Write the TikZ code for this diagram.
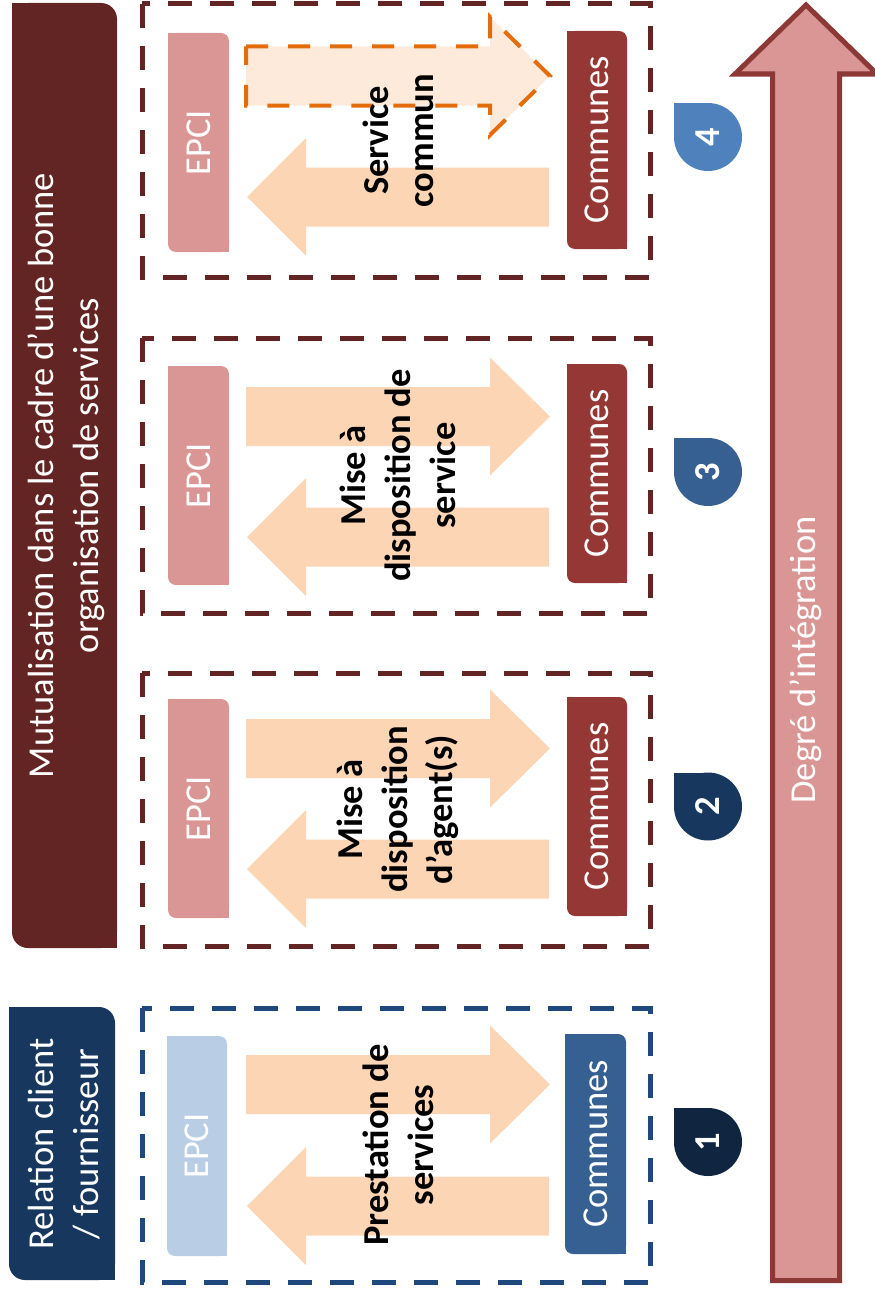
\documentclass[tikz,border=0pt]{standalone}
\usepackage{fontspec}
\setmainfont{Carlito}

\definecolor{mutred}{HTML}{632523}
\definecolor{relblue}{HTML}{17375E}
\definecolor{dashblue}{HTML}{1F497D}
\definecolor{epcipink}{HTML}{D99694}
\definecolor{epciblue}{HTML}{B9CDE5}
\definecolor{comred}{HTML}{953735}
\definecolor{comblue}{HTML}{376092}
\definecolor{flowfill}{HTML}{FCD5B5}
\definecolor{commfill}{HTML}{FDEADA}
\definecolor{commline}{HTML}{E46C0A}
\definecolor{badgeone}{HTML}{10253F}
\definecolor{badgetwo}{HTML}{17375E}
\definecolor{badgethree}{HTML}{376092}
\definecolor{badgefour}{HTML}{4F81BD}
\definecolor{degline}{HTML}{8C3836}

% boite aux coins diagonaux arrondis: couleur, x1, y1, x2, y2, rayon
\newcommand{\diagbox}[6]{%
  \fill[#1,rounded corners=#6] (#2,#3) rectangle (#4,#5);
  \fill[#1] (#2,#3) rectangle ++(#6,#6);
  \fill[#1] (#4,#5) rectangle ++(-#6,-#6);}
% fleche vers les communes / vers l'EPCI (ordonnee de l'axe)
\newcommand{\flowright}[2][flow]{%
  \filldraw[#1] (246,{#2-29.5}) -- (490,{#2-29.5}) -- (490,{#2-59}) -- (550,#2)
    -- (490,{#2+59}) -- (490,{#2+29.5}) -- (246,{#2+29.5}) -- cycle;}
\newcommand{\flowleft}[1]{%
  \fill[flowfill] (549,{#1-29.5}) -- (306,{#1-29.5}) -- (306,{#1-59}) -- (247,#1)
    -- (306,{#1+59}) -- (306,{#1+29.5}) -- (549,{#1+29.5}) -- cycle;}
% pastille numerotee
\newcommand{\badge}[2]{%
  \fill[#1] (708,#2) circle[radius=34];
  \fill[#1] (674,{#2-34}) rectangle (708,#2);}

\begin{document}
\begin{tikzpicture}[x=1pt,y=-1pt,
    lbl/.style={rotate=90,inner sep=0pt,align=center,text=white,font=\fontsize{36.5}{45}\selectfont},
    boldlbl/.style={lbl,text=black,font=\fontsize{36.5}{45}\selectfont\bfseries},
    numlbl/.style={lbl,font=\fontsize{36.5}{45}\selectfont\bfseries},
    dashframe/.style={line width=5pt,dash pattern=on 24pt off 18pt},
    flow/.style={fill=flowfill,draw=none},
    commflow/.style={fill=commfill,draw=commline,line width=4pt,dash pattern=on 22pt off 20pt}]
    \useasboundingbox (0,0) rectangle (875,1290);

    % en-tetes
    \diagbox{mutred}{12}{3}{117}{948}{16}
    \node[lbl] (mutu) at (66,475.5) {Mutualisation dans le cadre d’une bonne\\organisation de services};
    \diagbox{relblue}{9}{1007}{115}{1280}{16}
    \node[lbl] (relation) at (64,1144) {Relation client\\/ fournisseur};

    % degre d'integration
    \filldraw[fill=epcipink,draw=degline,line width=5pt] (772.5,1280.5) -- (772.5,74) -- (735,74)
        -- (806,5) -- (877,74) -- (839.5,74) -- (839.5,1280.5) -- cycle;
    \node[lbl] (degre) at (806,660) {Degré d’intégration};

    % 4 : service commun
    \draw[dashframe,draw=mutred] (142,4) rectangle (650,277);
    \diagbox{epcipink}{168}{33}{229}{252}{8}
    \node[lbl] (epci4) at (198.5,142.5) {EPCI};
    \diagbox{comred}{567}{31}{627}{249}{8}
    \node[lbl] (com4) at (597,140) {Communes};
    \flowleft{197}
    \flowright[commflow]{76}
    \node[boldlbl] (txt4) at (398,140.5) {Service\\commun};
    \badge{badgefour}{137}
    \node[numlbl] (num4) at (708,137) {4};

    % 3 : mise a disposition de service
    \draw[dashframe,draw=mutred] (142,338) rectangle (650,613);
    \diagbox{epcipink}{168}{366}{229}{585}{8}
    \node[lbl] (epci3) at (198.5,475.5) {EPCI};
    \diagbox{comred}{567}{364}{627}{583}{8}
    \node[lbl] (com3) at (597,473.5) {Communes};
    \flowright{416.5}
    \flowleft{537}
    \node[boldlbl] (txt3) at (398,475.5) {Mise à\\disposition de\\service};
    \badge{badgethree}{472}
    \node[numlbl] (num3) at (708,472) {3};

    % 2 : mise a disposition d'agents
    \draw[dashframe,draw=mutred] (142,673) rectangle (650,946);
    \diagbox{epcipink}{168}{699}{229}{918}{8}
    \node[lbl] (epci2) at (198.5,808.5) {EPCI};
    \diagbox{comred}{567}{697}{627}{916}{8}
    \node[lbl] (com2) at (597,806.5) {Communes};
    \flowright{748.5}
    \flowleft{869}
    \node[boldlbl] (txt2) at (398,809.5) {Mise à\\disposition\\d’agent(s)};
    \badge{badgetwo}{806.5}
    \node[numlbl] (num2) at (708,806.5) {2};

    % 1 : prestation de services
    \draw[dashframe,draw=dashblue] (142,1008) rectangle (650,1282);
    \diagbox{epciblue}{167}{1036}{227}{1256}{8}
    \node[lbl] (epci1) at (197,1146) {EPCI};
    \diagbox{comblue}{565}{1034}{626}{1254}{8}
    \node[lbl] (com1) at (595.5,1144) {Communes};
    \flowright{1084.5}
    \flowleft{1206}
    \node[boldlbl] (txt1) at (398,1145) {Prestation de\\services};
    \badge{badgeone}{1142}
    \node[numlbl] (num1) at (708,1142) {1};
\end{tikzpicture}
\end{document}
